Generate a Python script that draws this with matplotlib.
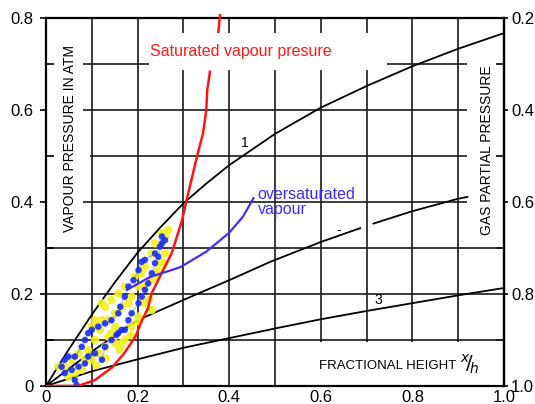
import numpy as np
import matplotlib.pyplot as plt
from matplotlib.patches import Rectangle
from matplotlib.ticker import FixedLocator, FuncFormatter

plt.rcParams['font.family'] = ['Liberation Sans', 'DejaVu Sans']

# theoretical curves (vapour pressure vs fractional height)
c1_x = [0, 0.05, 0.1, 0.15, 0.2, 0.25, 0.3, 0.35, 0.4, 0.5, 0.6, 0.7, 0.8, 0.9, 1.0]
c1_y = [0, 0.08, 0.155, 0.225, 0.29, 0.345, 0.397, 0.44, 0.48, 0.548, 0.605, 0.652, 0.695, 0.733, 0.767]

c2_x = [0, 0.1, 0.2, 0.3, 0.4, 0.49, 0.6, 0.686, 0.715, 0.8, 0.9, 0.92]
c2_y = [0, 0.075, 0.143, 0.187, 0.23, 0.27, 0.313, 0.343, 0.353, 0.38, 0.407, 0.411]

c3_x = [0, 0.1, 0.2, 0.3, 0.4, 0.5, 0.6, 0.7, 0.8, 0.9, 1.0]
c3_y = [0, 0.032, 0.058, 0.083, 0.104, 0.125, 0.145, 0.163, 0.18, 0.197, 0.213]

# saturated vapour pressure
sat_x = [0, 0.07, 0.107, 0.144, 0.17, 0.195, 0.21, 0.223, 0.23, 0.245, 0.26, 0.275,
         0.286, 0.297, 0.307, 0.33, 0.343, 0.35, 0.352, 0.358, 0.376, 0.38]
sat_y = [0, 0, 0.013, 0.04, 0.07, 0.107, 0.143, 0.17, 0.2, 0.23, 0.26, 0.29,
         0.325, 0.36, 0.404, 0.5, 0.55, 0.6, 0.643, 0.683, 0.767, 0.806]

# oversaturated vapour
over_x = [0.177, 0.227, 0.293, 0.35, 0.40, 0.43, 0.453]
over_y = [0.209, 0.237, 0.258, 0.292, 0.333, 0.368, 0.408]

# measured points (hand marked)
yel_x = [0.267, 0.260, 0.260, 0.256, 0.245, 0.231, 0.216, 0.202, 0.187, 0.180, 0.165, 0.151,
         0.136, 0.122, 0.118, 0.136, 0.143, 0.151, 0.129, 0.114, 0.100, 0.085, 0.071, 0.056,
         0.041, 0.027, 0.049, 0.063, 0.122, 0.129, 0.216, 0.231, 0.202, 0.187, 0.172, 0.165,
         0.151, 0.107, 0.092, 0.078, 0.231, 0.238, 0.253, 0.216, 0.209, 0.194, 0.172, 0.158,
         0.143, 0.107, 0.100, 0.225, 0.240, 0.250, 0.200, 0.185, 0.160, 0.130, 0.110]
yel_y = [0.339, 0.325, 0.288, 0.267, 0.252, 0.230, 0.216, 0.216, 0.194, 0.180, 0.172, 0.158,
         0.143, 0.143, 0.122, 0.107, 0.115, 0.129, 0.085, 0.071, 0.057, 0.057, 0.071, 0.057,
         0.042, 0.042, 0.020, 0.028, 0.180, 0.172, 0.180, 0.165, 0.151, 0.129, 0.100, 0.093,
         0.093, 0.100, 0.078, 0.035, 0.288, 0.310, 0.332, 0.259, 0.245, 0.238, 0.216, 0.201,
         0.187, 0.143, 0.129, 0.190, 0.240, 0.270, 0.140, 0.110, 0.080, 0.060, 0.045]

blu_x = [0.253, 0.249, 0.238, 0.216, 0.209, 0.202, 0.191, 0.180, 0.172, 0.162, 0.158, 0.143,
         0.129, 0.114, 0.100, 0.092, 0.085, 0.078, 0.063, 0.049, 0.041, 0.034, 0.041, 0.056,
         0.071, 0.085, 0.092, 0.107, 0.122, 0.129, 0.143, 0.158, 0.172, 0.180, 0.187, 0.202,
         0.209, 0.216, 0.223, 0.231, 0.238, 0.245, 0.253, 0.260, 0.063, 0.067, 0.165, 0.154]
blu_y = [0.325, 0.303, 0.288, 0.274, 0.270, 0.252, 0.230, 0.216, 0.194, 0.172, 0.158, 0.143,
         0.136, 0.129, 0.122, 0.115, 0.100, 0.085, 0.064, 0.064, 0.057, 0.042, 0.028, 0.035,
         0.042, 0.049, 0.064, 0.071, 0.057, 0.085, 0.100, 0.115, 0.122, 0.143, 0.158, 0.180,
         0.194, 0.209, 0.223, 0.245, 0.267, 0.281, 0.310, 0.317, 0.013, 0.002, 0.122, 0.111]

left_ticks = [0, 0.2, 0.4, 0.6, 0.8]
bottom_ticks = [0, 0.2, 0.4, 0.6, 0.8, 1.0]
right_ticks = [0.2, 0.4, 0.6, 0.8, 1.0]

fig = plt.figure(figsize=(5.35, 4.04), dpi=100)
ax = fig.add_axes([0.086, 0.0446, 0.856, 0.911])
ax.set_xlim(0, 1.0)
ax.set_ylim(0, 0.8)

gc = '#1a1a1a'
glw = 1.2
# horizontal grid, broken where the labels sit
ax.hlines([0.1, 0.2, 0.3], 0, 1.0, color=gc, lw=glw, zorder=1)
ax.hlines([0.4, 0.6, 0.7], 0.08, 0.92, color=gc, lw=glw, zorder=1)
ax.hlines(0.5, 0.095, 0.92, color=gc, lw=glw, zorder=1)
# vertical grid
ax.vlines([0.1, 0.2, 0.3, 0.4, 0.5], 0, 0.8, color=gc, lw=glw, zorder=1)
ax.vlines([0.6, 0.7, 0.8, 0.9], 0.095, 0.8, color=gc, lw=glw, zorder=1)

# curves
ax.plot(c1_x, c1_y, color='k', lw=1.3, zorder=2)
c2_x = np.array(c2_x)
c2_y = np.array(c2_y)
ax.plot(c2_x[c2_x <= 0.686], c2_y[c2_x <= 0.686], color='k', lw=1.3, zorder=2)
ax.plot(c2_x[c2_x >= 0.715], c2_y[c2_x >= 0.715], color='k', lw=1.3, zorder=2)
ax.plot(c3_x, c3_y, color='k', lw=1.3, zorder=2)

ax.scatter(yel_x, yel_y, s=36, color='#f2f020', edgecolors='none', alpha=0.9, zorder=3)
ax.plot(blu_x[:44], blu_y[:44], color='#5a6cf0', lw=0.9, alpha=0.45, zorder=3)
ax.scatter(blu_x, blu_y, s=22, color='#1a2ef0', edgecolors='none', alpha=0.9, zorder=4)

sat_x = np.array(sat_x)
sat_y = np.array(sat_y)
low = sat_y < 0.7
ax.plot(sat_x[low], sat_y[low], color='#ff1414', lw=1.8, zorder=5)
ax.plot(sat_x[~low], sat_y[~low], color='#ff1414', lw=1.8, zorder=5, clip_on=False)
ax.plot(over_x, over_y, color='#4a2cf0', lw=1.6, zorder=5)

# blank band under the red label
ax.add_patch(Rectangle((0.225, 0.687), 0.52, 0.08, facecolor='white', edgecolor='none', zorder=6))
ax.text(0.228, 0.727, 'Saturated vapour presure', color='#ff1a1a', fontsize=11.5,
        va='center', ha='left', zorder=7)
ax.text(0.462, 0.4, 'oversaturated\nvapour', color='#3a2cf5', fontsize=11.5,
        va='center', ha='left', linespacing=1.0, zorder=7)

ax.text(0.052, 0.335, 'VAPOUR PRESSURE IN ATM', rotation=90, fontsize=10, ha='center', va='bottom')
ax.text(0.963, 0.328, 'GAS PARTIAL PRESSURE', rotation=90, fontsize=10, ha='center', va='bottom')
ax.text(0.596, 0.043, 'FRACTIONAL HEIGHT', fontsize=9.5, ha='left', va='center')
ax.text(0.905, 0.048, r'$^{x}\!/\!_{h}$', fontsize=14, ha='left', va='center')
ax.text(0.435, 0.528, '1', fontsize=10, ha='center', va='center')
ax.text(0.725, 0.187, '3', fontsize=10, ha='center', va='center')
ax.text(0.64, 0.34, '-', fontsize=10, ha='center', va='center')

for s in ax.spines.values():
    s.set_linewidth(1.6)

fmt = FuncFormatter(lambda v, p: '0' if v == 0 else '%.1f' % v)
ax.xaxis.set_major_locator(FixedLocator(bottom_ticks))
ax.xaxis.set_major_formatter(fmt)
ax.yaxis.set_major_locator(FixedLocator(left_ticks))
ax.yaxis.set_major_formatter(fmt)
ax.yaxis.set_minor_locator(FixedLocator([0.1, 0.3, 0.5, 0.7]))
ax.tick_params(axis='x', length=0, pad=3, labelsize=12)
ax.tick_params(axis='y', which='major', direction='out', length=4, width=1.2, pad=5, labelsize=12)
ax.tick_params(axis='y', which='minor', direction='in', length=6, width=1.2)

sec = ax.secondary_yaxis('right', functions=(lambda v: 1 - v, lambda v: 1 - v))
sec.yaxis.set_major_locator(FixedLocator(right_ticks))
sec.yaxis.set_major_formatter(FuncFormatter(lambda v, p: '%.1f' % v))
sec.yaxis.set_minor_locator(FixedLocator([0.3, 0.5, 0.7, 0.9]))
sec.tick_params(which='major', direction='out', length=3, width=1.2, pad=2, labelsize=12)
sec.tick_params(which='minor', direction='in', length=6, width=1.2)
sec.spines['right'].set_linewidth(1.6)

fig.savefig('out.png', dpi=100)
